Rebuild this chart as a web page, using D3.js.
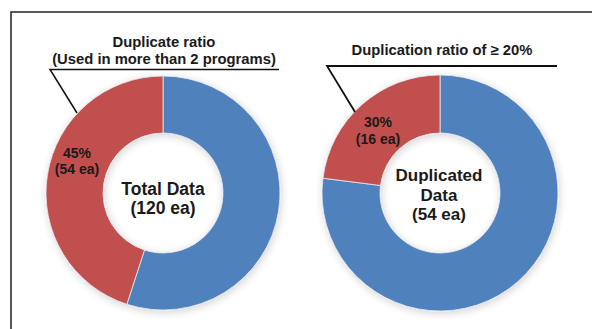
<!DOCTYPE html>
<html>
<head>
<meta charset="utf-8">
<script src="https://cdn.jsdelivr.net/npm/d3@7"></script>
<style>
  body { margin: 0; background: #fff; }
  text { font-family: Arial, "Liberation Sans", sans-serif; font-weight: bold; fill: #1a1a1a; }
</style>
</head>
<body>
<script>
// DATA
const categories = ["Not duplicated", "Duplicated"];
const totalValues = [55, 45];        // share of total data (%)
const dupValues = [77, 23];          // share of duplicated data, slice
const totalLabels = ["45%", "(54 ea)"];
const dupLabels = ["30%", "(16 ea)"];
const totalCenter = ["Total Data", "(120 ea)"];
const dupCenter = ["Duplicated", "Data", "(54 ea)"];
const totalTitle = ["Duplicate ratio", "(Used in more than 2 programs)"];
const dupTitle = ["Duplication ratio of \u2265 20%"];

const svg = d3.select("body")
    .append("svg")
    .attr("width", 593)
    .attr("height", 329);

// soft shadow like the original
const defs = svg.append("defs");
const f = defs.append("filter").attr("id", "glow")
    .attr("x", "-20%").attr("y", "-20%").attr("width", "140%").attr("height", "140%");
f.append("feGaussianBlur").attr("in", "SourceAlpha").attr("stdDeviation", 4).attr("result", "b");
f.append("feOffset").attr("in", "b").attr("dx", 1).attr("dy", 2).attr("result", "o");
f.append("feComponentTransfer").attr("in", "o").attr("result", "s")
    .append("feFuncA").attr("type", "linear").attr("slope", 0.18);
const fm = f.append("feMerge");
fm.append("feMergeNode").attr("in", "s");
fm.append("feMergeNode").attr("in", "SourceGraphic");

// frame
svg.append("path")
    .attr("d", "M11,329 L11,12 L592,12")
    .attr("fill", "none")
    .attr("stroke", "#222")
    .attr("stroke-width", 1.5);

const color = d3.scaleOrdinal().domain(categories).range(["#4f81bd", "#c0504d"]);
const pie = d3.pie().sort(null).value(d => d.v);

function donut(cx, cy, rOut, rIn, values) {
    const g = svg.append("g")
        .attr("transform", "translate(" + cx + "," + cy + ")")
        .attr("filter", "url(#glow)");
    const arc = d3.arc().innerRadius(rIn).outerRadius(rOut);
    const data = categories.map((c, i) => ({c: c, v: values[i]}));
    g.selectAll("path").data(pie(data))
        .enter()
        .append("path")
        .attr("d", arc)
        .attr("fill", d => color(d.data.c))
        .attr("stroke", "#e8e8f0")
        .attr("stroke-width", 0.8);
    return g;
}

function lines(x, y, arr, size, lh) {
    const t = svg.append("text")
        .attr("text-anchor", "middle")
        .attr("font-size", size);
    arr.forEach((s, i) => {
        t.append("tspan").attr("x", x).attr("y", y + i * lh).text(s);
    });
}

// left donut
donut(163, 193, 117, 60, totalValues);
lines(77, 158, totalLabels, 14, 16);
lines(163, 195, totalCenter, 17.5, 19);
lines(164, 47, totalTitle, 14.8, 17);
svg.append("path")
    .attr("d", "M279,69.5 L50,69.5 L77,113")
    .attr("fill", "none").attr("stroke", "#111").attr("stroke-width", 1.5);

// right donut
donut(440, 193, 118, 60, dupValues);
lines(378, 127, dupLabels, 14, 17);
lines(439, 181, dupCenter, 17, 19.5);
lines(442, 55, dupTitle, 14.8, 17);
svg.append("path")
    .attr("d", "M557,66 L327,66 L355,112")
    .attr("fill", "none").attr("stroke", "#111").attr("stroke-width", 1.8);
</script>
</body>
</html>
